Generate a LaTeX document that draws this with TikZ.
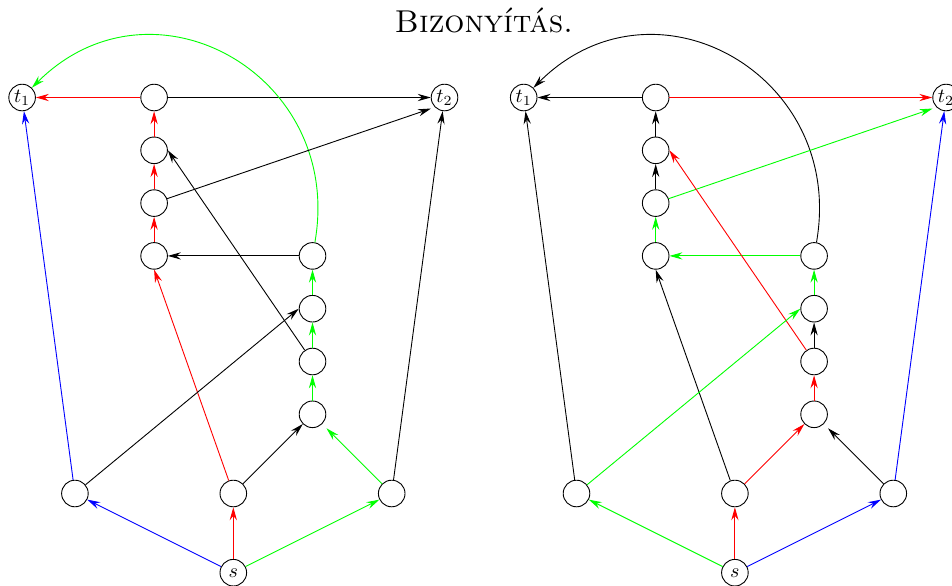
\documentclass[tikz,border=0pt]{standalone}
\usetikzlibrary{arrows.meta}

\begin{document}
\begin{tikzpicture}[
  x=26.4pt, y=26.4pt,
  line width=0.45pt,
  >={Stealth[length=6.5pt, width=3.6pt, inset=2.2pt]},
  vtx/.style={draw=black, circle, minimum size=13.3pt, inner sep=0pt},
  title/.style={font=\fontsize{15.8}{19}\selectfont, anchor=base},
  redge/.style={->, red},
  gedge/.style={->, green},
  bedge/.style={->, blue},
  kedge/.style={->, black},
  arcedge/.style={out=80, in=45, looseness=1.35},
]
\useasboundingbox (-4.419,-0.233) rectangle (13.612,10.847);
\node[title] (head) at (4.748,10.24) {\textsc{Bizonyítás.}};

% left graph
\node[vtx] (lt1) at (-4,9)   {$t_1$};
\node[vtx] (lx4) at (-1.5,9) {};
\node[vtx] (lt2) at (4,9)    {$t_2$};
\node[vtx] (lx3) at (-1.5,8) {};
\node[vtx] (lx2) at (-1.5,7) {};
\node[vtx] (lx1) at (-1.5,6) {};
\node[vtx] (ly4) at (1.5,6)  {};
\node[vtx] (ly3) at (1.5,5)  {};
\node[vtx] (ly2) at (1.5,4)  {};
\node[vtx] (ly1) at (1.5,3)  {};
\node[vtx] (lp)  at (-3,1.5) {};
\node[vtx] (lq)  at (0,1.5)  {};
\node[vtx] (lr)  at (3,1.5)  {};
\node[vtx] (ls)  at (0,0)    {$s$};

\draw[redge] (lx4) -- (lt1);
\draw[kedge] (lx4) -- (lt2);
\draw[redge] (lx3) -- (lx4);
\draw[redge] (lx2) -- (lx3);
\draw[redge] (lx1) -- (lx2);
\draw[redge] (lq) -- (lx1.south);
\draw[kedge] (ly4) -- (lx1);
\draw[gedge] (ly4) to[arcedge] (lt1);
\draw[kedge, shorten >=2pt] (lx2) -- (lt2.south west);
\draw[kedge] (ly2) -- (lx3.east);
\draw[kedge] (lp) -- (ly3.west);
\draw[bedge] (lp) -- (lt1);
\draw[kedge] (lq) -- (ly1);
\draw[gedge, shorten >=3pt] (lr) -- (ly1);
\draw[kedge] (lr) -- (lt2);
\draw[gedge] (ly1) -- (ly2);
\draw[gedge] (ly2) -- (ly3);
\draw[gedge] (ly3) -- (ly4);
\draw[bedge] (ls) -- (lp);
\draw[redge] (ls) -- (lq);
\draw[gedge] (ls) -- (lr);

% right graph
\node[vtx] (rt1) at (5.5,9)  {$t_1$};
\node[vtx] (rx4) at (8,9)    {};
\node[vtx] (rt2) at (13.5,9) {$t_2$};
\node[vtx] (rx3) at (8,8)    {};
\node[vtx] (rx2) at (8,7)    {};
\node[vtx] (rx1) at (8,6)    {};
\node[vtx] (ry4) at (11,6)   {};
\node[vtx] (ry3) at (11,5)   {};
\node[vtx] (ry2) at (11,4)   {};
\node[vtx] (ry1) at (11,3)   {};
\node[vtx] (rp)  at (6.5,1.5)  {};
\node[vtx] (rq)  at (9.5,1.5)  {};
\node[vtx] (rr)  at (12.5,1.5) {};
\node[vtx] (rs)  at (9.5,0)    {$s$};

\draw[kedge] (rx4) -- (rt1);
\draw[redge] (rx4) -- (rt2);
\draw[kedge] (rx3) -- (rx4);
\draw[kedge] (rx2) -- (rx3);
\draw[gedge] (rx1) -- (rx2);
\draw[kedge] (rq) -- (rx1.south);
\draw[gedge] (ry4) -- (rx1);
\draw[kedge] (ry4) to[arcedge] (rt1);
\draw[gedge, shorten >=2pt] (rx2) -- (rt2.south west);
\draw[redge] (ry2) -- (rx3.east);
\draw[gedge] (rp) -- (ry3.west);
\draw[kedge] (rp) -- (rt1);
\draw[redge] (rq) -- (ry1);
\draw[kedge, shorten >=3pt] (rr) -- (ry1);
\draw[bedge] (rr) -- (rt2);
\draw[redge] (ry1) -- (ry2);
\draw[kedge] (ry2) -- (ry3);
\draw[gedge] (ry3) -- (ry4);
\draw[gedge] (rs) -- (rp);
\draw[redge] (rs) -- (rq);
\draw[bedge] (rs) -- (rr);
\end{tikzpicture}
\end{document}
